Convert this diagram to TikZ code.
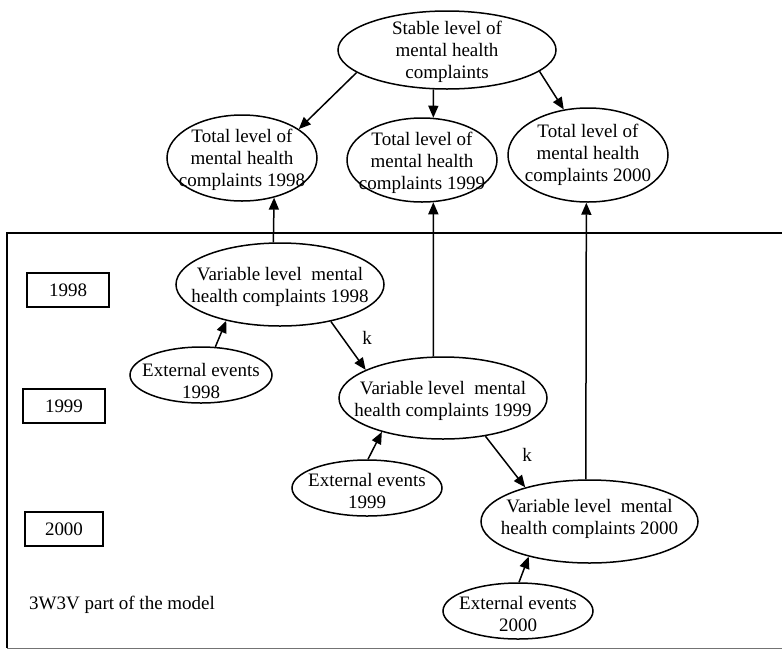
\documentclass[tikz,border=0pt]{standalone}
\usepackage{fontspec}
\setmainfont{Liberation Serif}
\usetikzlibrary{arrows.meta,shapes.geometric}
\begin{document}
\begin{tikzpicture}[x=1pt,y=-1pt,
  ell/.style={draw,ellipse,line width=1.5pt,inner sep=0pt},
  txt/.style={inner sep=0pt,align=center,font=\fontsize{19}{22}\selectfont},
  yearbox/.style={draw,rectangle,line width=1.5pt,inner sep=0pt,font=\fontsize{19}{22}\selectfont},
  arr/.style={line width=1.5pt,-{Triangle[length=12pt,width=10pt]}},
  ln/.style={line width=1.5pt}]
\useasboundingbox (0,0) rectangle (782,649);
% frame
\draw[ln] (782,233) -- (7,233) -- (7,648);
\draw[line width=0.9pt,black!55] (7,648) -- (782,648);
% ellipses
\node[ell,minimum width=218pt,minimum height=78pt] (s) at (447,50) {};
\node[txt] (st) at (447,52) {Stable level of\\mental health\\complaints};
\node[ell,minimum width=150pt,minimum height=86pt] (t98) at (242,158) {};
\node[txt] (t98t) at (242,160) {Total level of\\mental health\\complaints 1998};
\node[ell,minimum width=150pt,minimum height=84pt] (t99) at (422,160) {};
\node[txt] (t99t) at (422,163) {Total level of\\mental health\\complaints 1999};
\node[ell,minimum width=160pt,minimum height=94pt] (t00) at (588,155) {};
\node[txt] (t00t) at (588,155) {Total level of\\mental health\\complaints 2000};
\node[ell,minimum width=208pt,minimum height=83pt] (v98) at (280,284.5) {};
\node[txt] (v98t) at (280,287) {Variable level\ \ mental\\health complaints 1998};
\node[ell,minimum width=208pt,minimum height=82pt] (v99) at (443,398) {};
\node[txt] (v99t) at (443,401) {Variable level\ \ mental\\health complaints 1999};
\node[ell,minimum width=217pt,minimum height=83pt] (v00) at (589.5,521.5) {};
\node[txt] (v00t) at (589.5,519) {Variable level\ \ mental\\health complaints 2000};
\node[ell,minimum width=142pt,minimum height=56pt] (e98) at (201,375) {};
\node[txt] (e98t) at (201,381) {External events\\1998};
\node[ell,minimum width=150pt,minimum height=56pt] (e99) at (367,488) {};
\node[txt] (e99t) at (367,491) {External events\\1999};
\node[ell,minimum width=150pt,minimum height=56pt] (e00) at (518,611) {};
\node[txt] (e00t) at (518,614) {External events\\2000};
% year boxes
\node[yearbox,minimum width=82pt,minimum height=34pt] (y98) at (68,290) {1998};
\node[yearbox,minimum width=82pt,minimum height=34pt] (y99) at (64,406) {1999};
\node[yearbox,minimum width=78pt,minimum height=34pt] (y00) at (64,529) {2000};
\node[txt,anchor=west] (lbl) at (29,605) {3W3V part of the model};
% arrows from stable level
\draw[arr] (s.194) -- (t98.27);
\draw[arr] (s.-109.9) -- (t99.75.2);
\draw[arr] (s.-13.1) -- (t00.118);
% variable to total
\draw[arr] (v98.99.5) -- (t98.-51.7);
\draw[arr] (v99.103.8) -- (t99.-75.2);
\draw[arr] (v00.95.4) -- (t00.-92.4);
% autoregressive k
\coordinate (k1pos) at (367,338);
\coordinate (k2pos) at (527,455);
\draw[arr] (v98.-36.3) -- (v99.160.7);
\node[txt] (k1) at (k1pos) {k};
\draw[arr] (v99.-42.9) -- (v00.152.8);
\node[txt] (k2) at (k2pos) {k};
% external events
\draw[arr] (e98.63) -- (v98.-146.3);
\draw[arr] (e99.88) -- (v99.-151.7);
\draw[arr] (e00.88) -- (v00.-150.6);
\end{tikzpicture}
\end{document}
